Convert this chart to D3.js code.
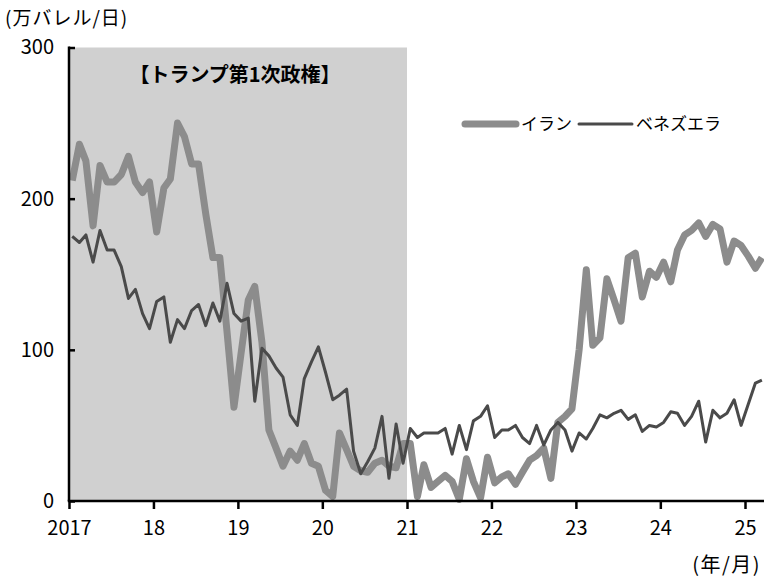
<!DOCTYPE html>
<html lang="ja">
<head>
<meta charset="utf-8">
<script src="https://cdn.jsdelivr.net/npm/d3@7"></script>
<style>
  html, body { margin: 0; padding: 0; background: #fff; }
  svg { display: block; }
  text { font-family: "Noto Sans CJK JP", "Noto Sans", sans-serif; fill: #000; }
</style>
</head>
<body>
<svg id="chart" width="764" height="578"></svg>
<script>
// Monthly crude exports, Jan 2017 – Mar 2025 (万バレル/日)
const firstMonth = new Date(2017, 0, 1);
const endMonth = new Date(2025, 3, 1); // exclusive
const iran = [
  212, 236, 225, 182, 222, 211, 211, 216, 228, 211, 204, 211,
  178, 207, 213, 250, 241, 223, 223, 190, 161, 161, 112, 62,
  98, 133, 142, 105, 47, 35, 23, 33, 27, 38, 25, 23,
  7, 3, 45, 34, 23, 20, 19, 25, 27, 23, 22, 38,
  38, 3, 24, 9, 13, 17, 13, 1, 28, 13, 2, 29,
  12, 16, 18, 11, 19, 27, 30, 35, 15, 52, 56, 61,
  100, 153, 103, 108, 147, 133, 119, 161, 164, 135, 152, 148,
  158, 145, 166, 176, 179, 184, 175, 183, 180, 158, 172, 169,
  162, 154, 161
];
const venezuela = [
  175, 171, 176, 158, 179, 166, 166, 155, 134, 140, 124, 114,
  132, 135, 105, 120, 114, 126, 130, 116, 131, 119, 144, 124,
  119, 121, 66, 101, 96, 88, 82, 57, 50, 81, 92, 102,
  85, 67, 70, 74, 33, 18, 26, 35, 56, 15, 51, 25,
  48, 42, 45, 45, 45, 48, 31, 50, 34, 53, 56, 63,
  42, 47, 47, 50, 42, 38, 50, 37, 47, 52, 47, 33,
  45, 41, 48, 57, 55, 58, 60, 54, 57, 46, 50, 49,
  52, 59, 58, 50, 56, 66, 39, 60, 55, 58, 67, 50,
  64, 78, 80
];
const seriesNames = ["イラン", "ベネズエラ"];
const yTicks = [0, 100, 200, 300];
const xTickYears = [2017, 2018, 2019, 2020, 2021, 2022, 2023, 2024, 2025];
const termLabel = "【トランプ第1次政権】";
const termStart = new Date(2017, 0, 1);
const termEnd = new Date(2021, 0, 1);
const yUnit = "(万バレル/日)";
const xUnit = "(年/月)";

const svg = d3.select("#chart");
const plotLeft = 69, plotRight = 764, plotTop = 47.5, plotBottom = 501;
const numFont = "\"DejaVu Sans\", Verdana, sans-serif";

const months = d3.timeMonths(firstMonth, endMonth);
// each monthly value sits in the middle of its month
const mid = m => d3.timeDay.offset(m, 14);

const x = d3.scaleTime()
  .domain([new Date(2017, 0, 1), new Date(2025, 0, 1)])
  .range([plotLeft, 745]);
const y = d3.scaleLinear().domain([0, 300]).range([plotBottom, plotTop]);

// shaded first-term period
svg.append("rect")
  .attr("x", x(termStart))
  .attr("y", y(300))
  .attr("width", x(termEnd) - x(termStart))
  .attr("height", y(0) - y(300))
  .attr("fill", "#d0d0d0");

svg.append("text")
  .attr("x", (x(termStart) + x(termEnd)) / 2 - 3)
  .attr("y", 82)
  .attr("text-anchor", "middle")
  .attr("font-size", 20)
  .attr("font-weight", "bold")
  .text(termLabel);

svg.append("defs").append("clipPath").attr("id", "plot")
  .append("rect").attr("x", plotLeft).attr("y", 0)
  .attr("width", plotRight - plotLeft).attr("height", plotBottom + 10);

const line = d3.line()
  .x((d, i) => x(mid(months[i])))
  .y(d => y(d));

const g = svg.append("g").attr("clip-path", "url(#plot)");
g.append("path").datum(iran)
  .attr("d", line)
  .attr("fill", "none")
  .attr("stroke", "#8c8c8c")
  .attr("stroke-width", 7)
  .attr("stroke-linejoin", "round");
g.append("path").datum(venezuela)
  .attr("d", line)
  .attr("fill", "none")
  .attr("stroke", "#4a4a4a")
  .attr("stroke-width", 3)
  .attr("stroke-linejoin", "round");

// axes
const yAxis = d3.axisLeft(y).tickValues(yTicks).tickSize(-6).tickPadding(15);
const yg = svg.append("g").attr("transform", `translate(${plotLeft},0)`).call(yAxis);
yg.select(".domain").remove();
yg.selectAll(".tick line").attr("stroke", "#000").attr("stroke-width", 2.5);
yg.selectAll(".tick text").attr("font-size", 20).attr("font-family", numFont);

const xAxis = d3.axisBottom(x)
  .tickValues(xTickYears.map(yr => new Date(yr, 0, 1)))
  .tickSize(8).tickPadding(12)
  .tickFormat(d => d.getFullYear() === 2017 ? "2017" : String(d.getFullYear() % 100));
const xg = svg.append("g").attr("transform", `translate(0,${plotBottom})`).call(xAxis);
xg.select(".domain").remove();
xg.selectAll(".tick line").attr("stroke", "#000").attr("stroke-width", 2.5);
xg.selectAll(".tick text").attr("font-size", 20).attr("font-family", numFont);

svg.append("line").attr("x1", plotLeft).attr("x2", plotLeft).attr("y1", plotTop - 1).attr("y2", plotBottom)
  .attr("stroke", "#000").attr("stroke-width", 2.5);
svg.append("line").attr("x1", plotLeft - 1.25).attr("x2", plotRight).attr("y1", plotBottom).attr("y2", plotBottom)
  .attr("stroke", "#000").attr("stroke-width", 2.5);

// unit labels
svg.append("text").attr("x", 5).attr("y", 25).attr("font-size", 19)
  .attr("letter-spacing", 1).text(yUnit);
svg.append("text").attr("x", 761).attr("y", 572).attr("text-anchor", "end").attr("font-size", 20)
  .attr("letter-spacing", 1.5).text(xUnit);

// legend
const legend = [
  { name: seriesNames[0], color: "#8c8c8c", width: 7, x1: 465, x2: 516, tx: 521 },
  { name: seriesNames[1], color: "#4a4a4a", width: 3, x1: 579, x2: 632, tx: 636 }
];
const lg = svg.append("g");
legend.forEach(d => {
  lg.append("line").attr("x1", d.x1).attr("x2", d.x2).attr("y1", 124).attr("y2", 124)
    .attr("stroke", d.color).attr("stroke-width", d.width).attr("stroke-linecap", "round");
  lg.append("text").attr("x", d.tx).attr("y", 130).attr("font-size", 17).text(d.name);
});
</script>
</body>
</html>
